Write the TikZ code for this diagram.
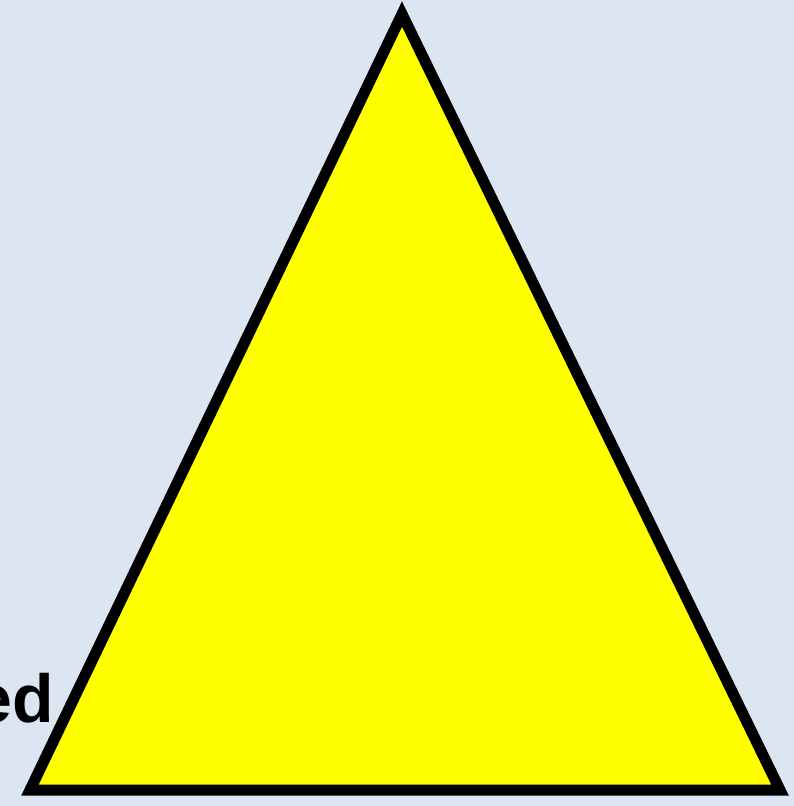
\documentclass[tikz,border=0pt]{standalone}
\usepackage{fontspec}
\setmainfont{Liberation Sans}
\definecolor{bg}{HTML}{DCE6F2}
\definecolor{tri}{HTML}{FFFF00}
\begin{document}
\begin{tikzpicture}[x=1pt,y=-1pt,
  tristyle/.style={fill=tri,draw=black,line width=11pt,line join=miter}]
\useasboundingbox (0,0) rectangle (794,806);
\clip (0,0) rectangle (794,806);
\fill[bg] (0,0) rectangle (794,806);
\coordinate (apex) at (402,14);
\coordinate (bl) at (30,790);
\coordinate (br) at (780,790);
\draw[tristyle] (apex) -- (br) -- (bl) -- cycle;
\node[anchor=base east,inner sep=0pt,font=\fontsize{68}{68}\selectfont\bfseries] (lbl) at (54,722) {ed};
\end{tikzpicture}
\end{document}
